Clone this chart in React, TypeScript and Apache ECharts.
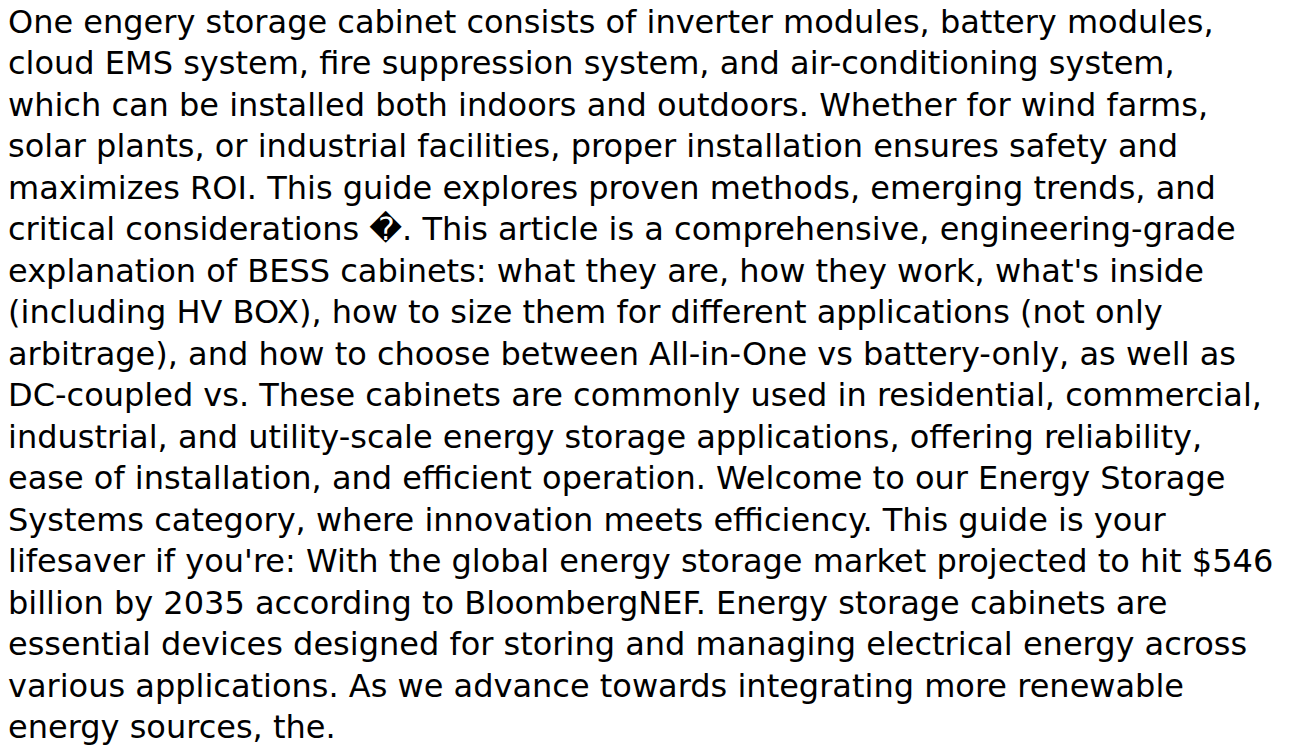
import React, { useEffect, useRef } from "react";
import * as echarts from "echarts";

const lines: string[] = [
  "One engery storage cabinet consists of inverter modules, battery modules,",
  "cloud EMS system, fire suppression system, and air-conditioning system,",
  "which can be installed both indoors and outdoors. Whether for wind farms,",
  "solar plants, or industrial facilities, proper installation ensures safety and",
  "maximizes ROI. This guide explores proven methods, emerging trends, and",
  "critical considerations \uFFFD. This article is a comprehensive, engineering-grade",
  "explanation of BESS cabinets: what they are, how they work, what's inside",
  "(including HV BOX), how to size them for different applications (not only",
  "arbitrage), and how to choose between All-in-One vs battery-only, as well as",
  "DC-coupled vs. These cabinets are commonly used in residential, commercial,",
  "industrial, and utility-scale energy storage applications, offering reliability,",
  "ease of installation, and efficient operation. Welcome to our Energy Storage",
  "Systems category, where innovation meets efficiency. This guide is your",
  "lifesaver if you're: With the global energy storage market projected to hit $546",
  "billion by 2035 according to BloombergNEF. Energy storage cabinets are",
  "essential devices designed for storing and managing electrical energy across",
  "various applications. As we advance towards integrating more renewable",
  "energy sources, the.",
];

const FONT_SIZE = 32;
const LINE_GAP = 41.5;
const FIRST_CENTER = 21.6;
const LEFT = 8;

export default function App() {
  const ref = useRef<HTMLDivElement>(null);
  useEffect(() => {
    if (!ref.current) return;
    const chart = echarts.init(ref.current, undefined, { renderer: "svg" });
    chart.setOption({
      animation: false,
      backgroundColor: "#ffffff",
      graphic: lines.map((t, i) => ({
        type: "text",
        x: LEFT,
        y: FIRST_CENTER + LINE_GAP * i,
        style: {
          text: t,
          fill: "#000000",
          font: `${FONT_SIZE}px "DejaVu Sans"`,
          textAlign: "left",
          textVerticalAlign: "middle",
        },
      })),
    });
    return () => chart.dispose();
  }, []);
  return (
    <div
      ref={ref}
      style={{
        position: "absolute",
        left: 0,
        top: 0,
        width: 1293,
        height: 747,
        fontVariantLigatures: "none",
        fontFeatureSettings: '"liga" 0, "clig" 0',
      }}
    />
  );
}
